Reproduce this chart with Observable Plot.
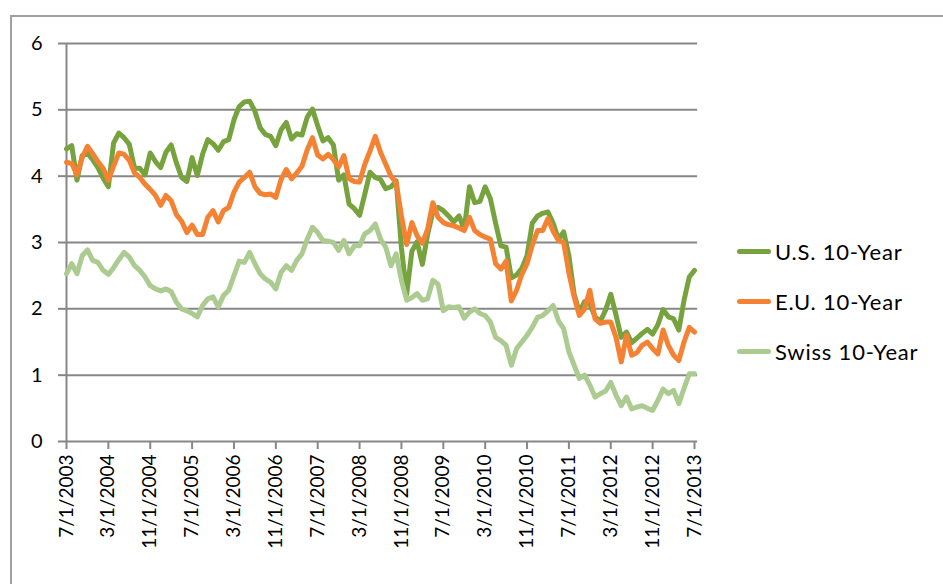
<!DOCTYPE html>
<html>
<head>
<meta charset="utf-8">
<script src="https://cdn.jsdelivr.net/npm/d3@7"></script>
<script src="https://cdn.jsdelivr.net/npm/@observablehq/plot@0.6"></script>
<style>
  html, body { margin: 0; padding: 0; background: #fff; }
  body { width: 943px; height: 584px; overflow: hidden; position: relative; font-family: Lato, "Open Sans", sans-serif; }
  #frame { position: absolute; left: 10px; top: 15px; width: 1000px; height: 700px; border-left: 2px solid #a0a0a0; border-top: 2px solid #a0a0a0; }
  #chart { position: absolute; left: 0; top: 0; }
  #legend { position: absolute; left: 737px; top: 226px; font-size: 22px; letter-spacing: 0.8px; color: #000; }
  .item { position: relative; height: 50px; display: flex; align-items: center; }
  .sw { width: 34px; height: 5px; border-radius: 3px; margin-right: 4px; }
</style>
</head>
<body>
<div id="frame"></div>
<div id="chart"></div>
<div id="legend"></div>
<script>
// Monthly observations, July 2003 .. July 2013 (121 months)
const startLabel = "7/1/2003";
const seriesNames = ["U.S. 10-Year", "E.U. 10-Year", "Swiss 10-Year"];
const seriesColors = ["#77a33e", "#f58232", "#abcb90"];

const us = [
  4.41, 4.46, 3.94, 4.31, 4.35, 4.25, 4.13, 3.97, 3.84, 4.50, 4.65, 4.58,
  4.48, 4.12, 4.12, 4.02, 4.35, 4.22, 4.13, 4.36, 4.47, 4.20, 3.98, 3.92,
  4.28, 4.01, 4.33, 4.55, 4.49, 4.39, 4.52, 4.55, 4.85, 5.05, 5.12, 5.13,
  4.98, 4.73, 4.63, 4.60, 4.46, 4.70, 4.81, 4.56, 4.64, 4.62, 4.89, 5.01,
  4.76, 4.53, 4.58, 4.47, 3.94, 4.02, 3.58, 3.51, 3.41, 3.73, 4.06, 3.98,
  3.95, 3.81, 3.84, 3.93, 2.92, 2.22, 2.87, 3.01, 2.67, 3.12, 3.46, 3.53,
  3.48, 3.40, 3.31, 3.40, 3.20, 3.84, 3.60, 3.62, 3.84, 3.66, 3.29, 2.95,
  2.93, 2.47, 2.51, 2.61, 2.80, 3.29, 3.40, 3.44, 3.46, 3.29, 3.05, 3.16,
  2.80, 2.22, 1.95, 2.11, 2.07, 1.88, 1.81, 1.98, 2.22, 1.91, 1.57, 1.65,
  1.49, 1.56, 1.63, 1.69, 1.62, 1.76, 1.99, 1.88, 1.85, 1.68, 2.13, 2.48,
  2.58
];
const eu = [
  4.21, 4.19, 4.02, 4.28, 4.45, 4.34, 4.22, 4.12, 3.94, 4.15, 4.35, 4.33,
  4.24, 4.05, 3.98, 3.88, 3.80, 3.71, 3.56, 3.71, 3.63, 3.42, 3.32, 3.15,
  3.26, 3.12, 3.12, 3.38, 3.48, 3.31, 3.48, 3.53, 3.76, 3.91, 3.98, 4.06,
  3.84, 3.74, 3.72, 3.73, 3.68, 3.95, 4.10, 3.96, 4.05, 4.15, 4.40, 4.58,
  4.32, 4.26, 4.33, 4.25, 4.14, 4.31, 3.96, 3.92, 3.91, 4.18, 4.38, 4.60,
  4.36, 4.18, 4.00, 3.90, 3.40, 2.97, 3.30, 3.10, 2.99, 3.20, 3.60, 3.38,
  3.30, 3.27, 3.25, 3.22, 3.18, 3.38, 3.18, 3.12, 3.08, 3.05, 2.68, 2.60,
  2.72, 2.12, 2.28, 2.52, 2.68, 2.96, 3.18, 3.18, 3.36, 3.17, 3.03, 3.00,
  2.54, 2.18, 1.90, 2.00, 2.28, 1.85, 1.78, 1.80, 1.80, 1.57, 1.20, 1.60,
  1.30, 1.34, 1.45, 1.50, 1.40, 1.32, 1.68, 1.45, 1.30, 1.22, 1.50, 1.72,
  1.65
];
const swiss = [
  2.53, 2.68, 2.53, 2.80, 2.89, 2.73, 2.70, 2.58, 2.52, 2.62, 2.74, 2.85,
  2.78, 2.65, 2.58, 2.48, 2.35, 2.30, 2.27, 2.30, 2.26, 2.10, 2.00, 1.97,
  1.93, 1.88, 2.05, 2.15, 2.18, 2.03, 2.20, 2.28, 2.50, 2.72, 2.70, 2.85,
  2.68, 2.53, 2.45, 2.40, 2.30, 2.55, 2.65, 2.58, 2.73, 2.83, 3.05, 3.23,
  3.15, 3.03, 3.02, 3.00, 2.88, 3.03, 2.83, 2.95, 2.95, 3.13, 3.18, 3.28,
  3.05, 2.93, 2.65, 2.83, 2.43, 2.13, 2.17, 2.23, 2.13, 2.15, 2.43, 2.37,
  1.97, 2.03, 2.02, 2.03, 1.86, 1.95, 2.00, 1.93, 1.90, 1.80, 1.57, 1.52,
  1.45, 1.15, 1.40, 1.50, 1.60, 1.72, 1.87, 1.90, 1.97, 2.05, 1.82, 1.70,
  1.35, 1.15, 0.95, 1.00, 0.85, 0.67, 0.72, 0.76, 0.89, 0.70, 0.54, 0.67,
  0.49, 0.52, 0.54, 0.50, 0.47, 0.62, 0.79, 0.72, 0.77, 0.57, 0.80, 1.02,
  1.02
];
const xTickLabels = [
  "7/1/2003", "3/1/2004", "11/1/2004", "7/1/2005", "3/1/2006", "11/1/2006",
  "7/1/2007", "3/1/2008", "11/1/2008", "7/1/2009", "3/1/2010", "11/1/2010",
  "7/1/2011", "3/1/2012", "11/1/2012", "7/1/2013"
];
const yTicks = [0, 1, 2, 3, 4, 5, 6];

// month index relative to the first observation
function monthIndex(label) {
  const [m, , y] = label.split("/").map(Number);
  const [m0, , y0] = startLabel.split("/").map(Number);
  return (y - y0) * 12 + (m - m0);
}
const xTicks = xTickLabels.map(monthIndex);
const labelOf = new Map(xTickLabels.map(l => [monthIndex(l), l]));

const rows = [];
[us, eu, swiss].forEach((vals, k) => {
  vals.forEach((v, i) => rows.push({series: seriesNames[k], i, v}));
});

const grid = "#878787";
const lastX = monthIndex(xTickLabels[xTickLabels.length - 1]);
const chart = Plot.plot({
  width: 943,
  height: 584,
  marginLeft: 66,
  marginRight: 249,
  marginTop: 43,
  marginBottom: 143,
  style: {fontFamily: "Lato, 'Open Sans', sans-serif", fontSize: "20px", color: "#000", background: "transparent", overflow: "visible"},
  x: {domain: [0, lastX]},
  y: {domain: [0, 6]},
  color: {domain: seriesNames, range: seriesColors},
  marks: [
    Plot.ruleY(yTicks.filter(d => d > 0), {stroke: grid, strokeWidth: 2, x1: 0, x2: lastX + 0.6}),
    Plot.axisY({ticks: yTicks, tickFormat: d => String(d), tickSize: 8, tickPadding: 16, stroke: grid, strokeWidth: 2, fill: "#000", label: null, fontSize: 20}),
    Plot.axisX({ticks: xTicks, tickFormat: d => labelOf.get(d), tickRotate: -90, tickSize: 8, tickPadding: 5, stroke: grid, strokeWidth: 2, fill: "#000", label: null, fontSize: 19}),
    Plot.ruleX([0], {stroke: grid, strokeWidth: 2}),
    Plot.ruleY([0], {stroke: grid, strokeWidth: 2, x1: 0, x2: lastX + 0.6}),
    Plot.lineY(rows, {x: "i", y: "v", z: "series", stroke: "series", strokeWidth: 5, strokeLinejoin: "round", strokeLinecap: "round"})
  ]
});
document.getElementById("chart").appendChild(chart);

const legend = document.getElementById("legend");
seriesNames.forEach((name, k) => {
  const item = document.createElement("div");
  item.className = "item";
  const sw = document.createElement("div");
  sw.className = "sw";
  sw.style.background = seriesColors[k];
  const t = document.createElement("span");
  t.textContent = name;
  item.appendChild(sw);
  item.appendChild(t);
  legend.appendChild(item);
});
</script>
</body>
</html>
